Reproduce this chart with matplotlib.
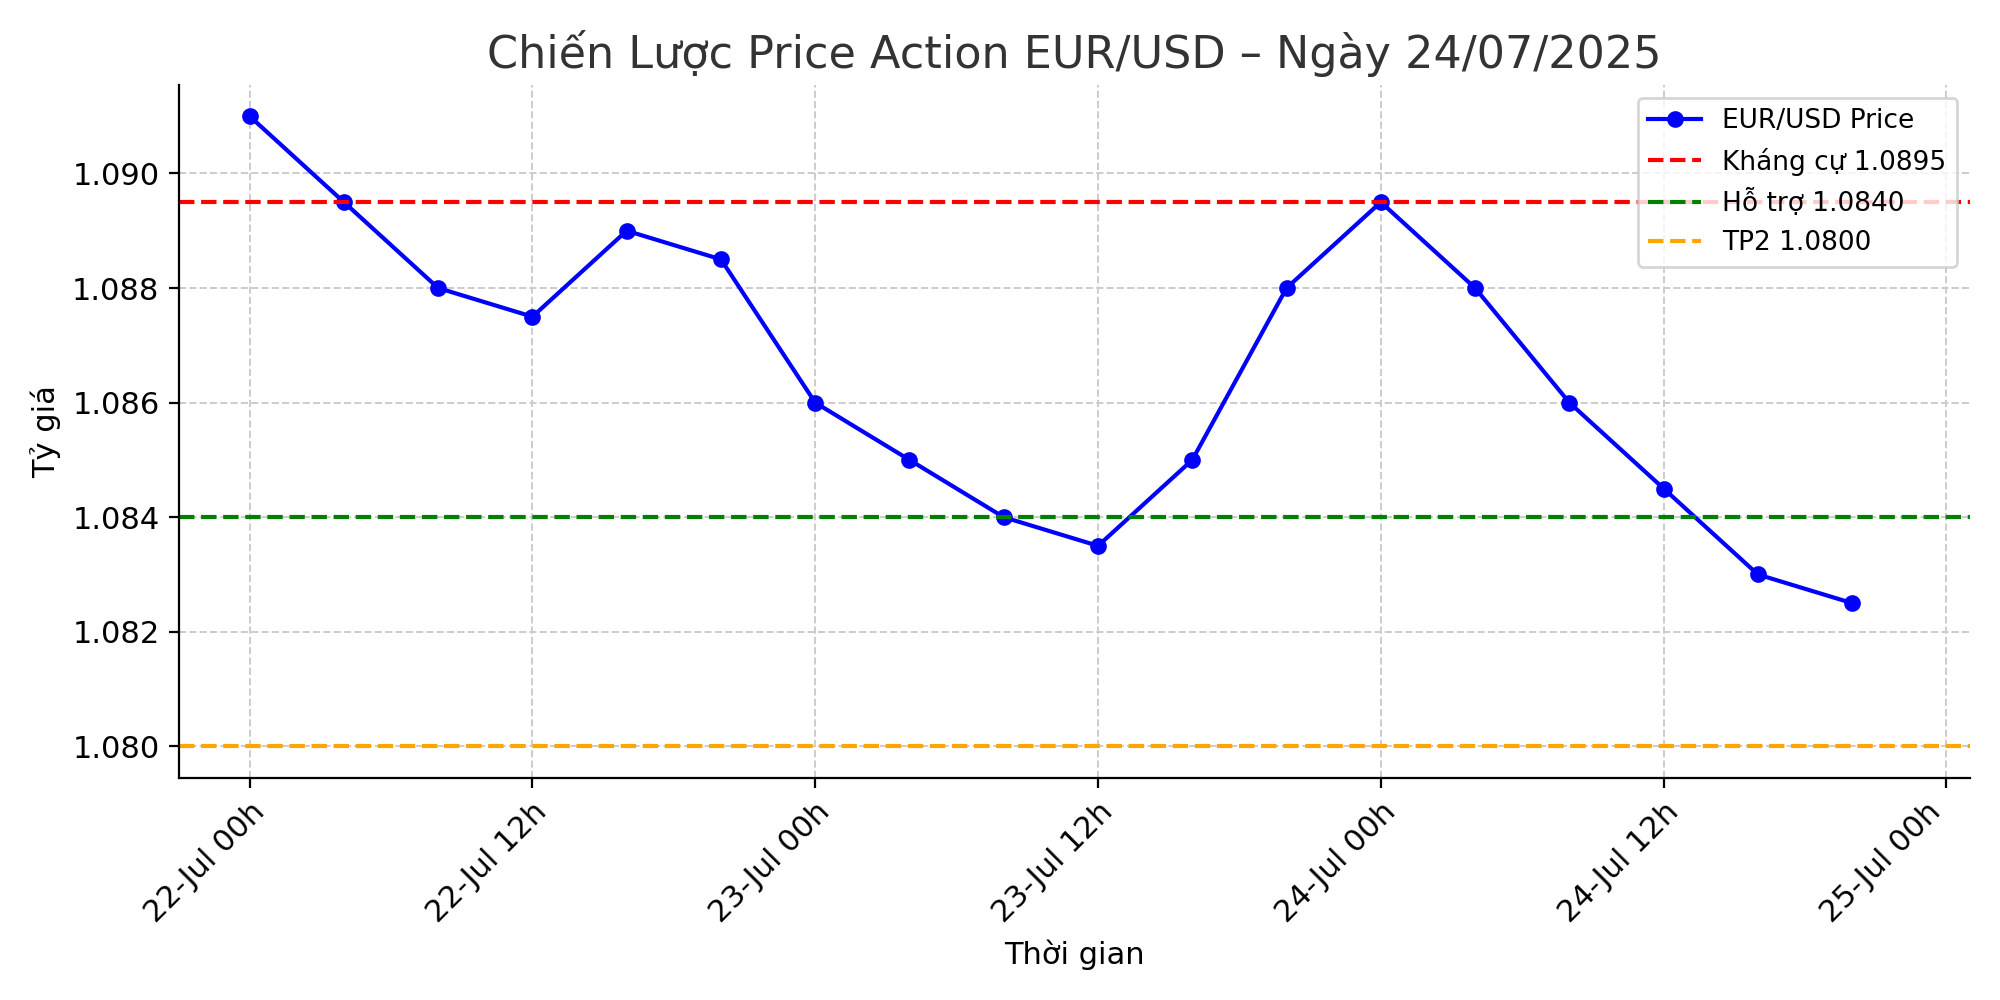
import matplotlib.pyplot as plt
import matplotlib.dates as mdates
import pandas as pd

# Price data, every 4 hours
times = pd.date_range("2025-07-22 00:00", periods=18, freq="4h")
prices = [1.0910, 1.0895, 1.0880, 1.0875, 1.0890, 1.0885, 1.0860, 1.0850, 1.0840,
          1.0835, 1.0850, 1.0880, 1.0895, 1.0880, 1.0860, 1.0845, 1.0830, 1.0825]

resistance = 1.0895
support = 1.0840
tp2 = 1.0800

fig, ax = plt.subplots(figsize=(10, 5), dpi=200)
ax.plot(times, prices, color="blue", marker="o", markersize=5, label="EUR/USD Price")
ax.axhline(resistance, color="red", linestyle="--", label="Kháng cự 1.0895")
ax.axhline(support, color="green", linestyle="--", label="Hỗ trợ 1.0840")
ax.axhline(tp2, color="orange", linestyle="--", label="TP2 1.0800")

ax.set_title("Chiến Lược Price Action EUR/USD – Ngày 24/07/2025", fontsize=16, color="#333333")
ax.set_xlabel("Thời gian", fontsize=11)
ax.set_ylabel("Tỷ giá", fontsize=11)
ax.xaxis.set_major_locator(mdates.HourLocator(byhour=[0, 12]))
ax.xaxis.set_major_formatter(mdates.DateFormatter("%d-%b %Hh"))
ax.yaxis.set_major_formatter(plt.FuncFormatter(lambda v, p: f"{v:.3f}"))
plt.setp(ax.get_xticklabels(), rotation=45, ha="right", rotation_mode="anchor")
ax.tick_params(labelsize=11)
ax.set_xlim(times[0] - pd.Timedelta(hours=3), times[-1] + pd.Timedelta(hours=5))
ax.grid(True, linestyle="--", color="#cccccc", linewidth=0.7)
ax.spines["top"].set_visible(False)
ax.spines["right"].set_visible(False)
ax.legend(loc="upper right", fontsize=9.5)

plt.tight_layout()
plt.savefig("out.png")
